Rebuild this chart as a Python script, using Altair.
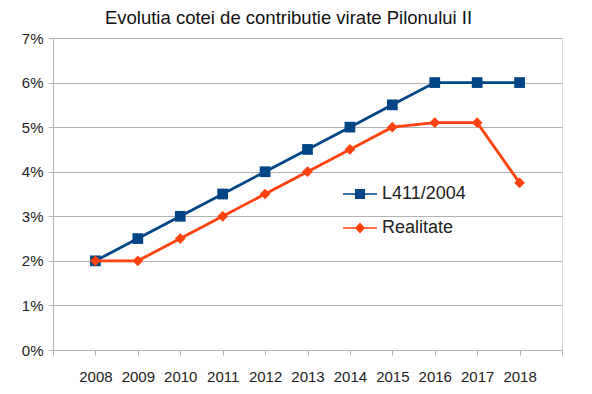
import altair as alt
import pandas as pd

years = list(range(2008, 2019))
l411 = [0.02, 0.025, 0.03, 0.035, 0.04, 0.045, 0.05, 0.055, 0.06, 0.06, 0.06]
realitate = [0.02, 0.02, 0.025, 0.03, 0.035, 0.04, 0.045, 0.05, 0.051, 0.051, 0.0375]
series_names = ["L411/2004", "Realitate"]
colors = ["#004586", "#ff420e"]
point_shapes = ["square", "diamond"]
y_ticks = [0.0, 0.01, 0.02, 0.03, 0.04, 0.05, 0.06, 0.07]
title_text = "Evolutia cotei de contributie virate Pilonului II"

rows = []
for name, vals in zip(series_names, [l411, realitate]):
    for yr, v in zip(years, vals):
        rows.append({"year": yr, "value": v, "series": name})
df = pd.DataFrame(rows)

FONT = "Liberation Sans"
GRID = "#b3b3b3"

x = alt.X(
    "year:Q",
    scale=alt.Scale(domain=[2007, 2019], nice=False, zero=False),
    axis=alt.Axis(
        values=list(range(2007, 2020)),
        format="d",
        labelExpr="datum.value < 2008 || datum.value > 2018 ? '' : datum.label",
        grid=False,
        title=None,
        tickSize=5,
        labelPadding=14,
        labelFontSize=15,
        labelFont=FONT,
        labelColor="#222222",
        domainColor=GRID,
        tickColor=GRID,
        labelFlush=False,
        labelOverlap=False,
    ),
)
y = alt.Y(
    "value:Q",
    scale=alt.Scale(domain=[0, 0.07], nice=False),
    axis=alt.Axis(
        values=y_ticks,
        format=".0%",
        title=None,
        tickSize=5,
        labelPadding=5,
        labelFontSize=15,
        labelFont=FONT,
        labelColor="#222222",
        domainColor=GRID,
        tickColor=GRID,
        gridColor=GRID,
        grid=True,
    ),
)

layers = []
for name, col, shp in zip(series_names, colors, point_shapes):
    sub = alt.Chart(df).transform_filter(alt.datum.series == name)
    layers.append(sub.mark_line(strokeWidth=2.8, color=col, opacity=1).encode(x=x, y=y))
    layers.append(
        sub.mark_point(filled=True, opacity=1, size=115, color=col, shape=shp).encode(x=x, y=y)
    )

leg = alt.Legend(
    orient="none",
    legendX=290,
    legendY=139,
    title=None,
    symbolSize=1156,
    symbolOpacity=1,
    symbolStrokeWidth=0,
    labelFontSize=18,
    labelFont=FONT,
    labelColor="#222222",
    labelOffset=5,
    rowPadding=8,
    padding=0,
)
legend_paths = [
    "M-1,-0.045H1V0.045H-1ZM-0.3,-0.3H0.3V0.3H-0.3Z",
    "M-1,-0.045H1V0.045H-1ZM0,-0.32L0.3,0L0,0.32L-0.3,0Z",
]
legend_layer = alt.Chart(df).transform_filter("datum.value < 0").mark_point(
    filled=True, opacity=1
).encode(
    x=x, y=y,
    shape=alt.Shape("series:N", scale=alt.Scale(domain=series_names, range=legend_paths), legend=leg),
    color=alt.Color("series:N", scale=alt.Scale(domain=series_names, range=colors), legend=leg),
)
layers.append(legend_layer)

chart = alt.layer(*layers).properties(
    width=509,
    height=312,
    autosize=alt.AutoSizeParams(type="none"),
    padding={"left": 45, "top": 30, "right": 20, "bottom": 40},
    title=alt.TitleParams(
        text=title_text,
        fontSize=18.5,
        font=FONT,
        fontWeight="normal",
        color="#111111",
        anchor="middle",
        dx=-19,
        offset=4,
    ),
).configure_view(stroke=GRID, strokeWidth=1).configure(background="white")

chart.save("out.html", embed_options={"renderer": "svg", "actions": False})
